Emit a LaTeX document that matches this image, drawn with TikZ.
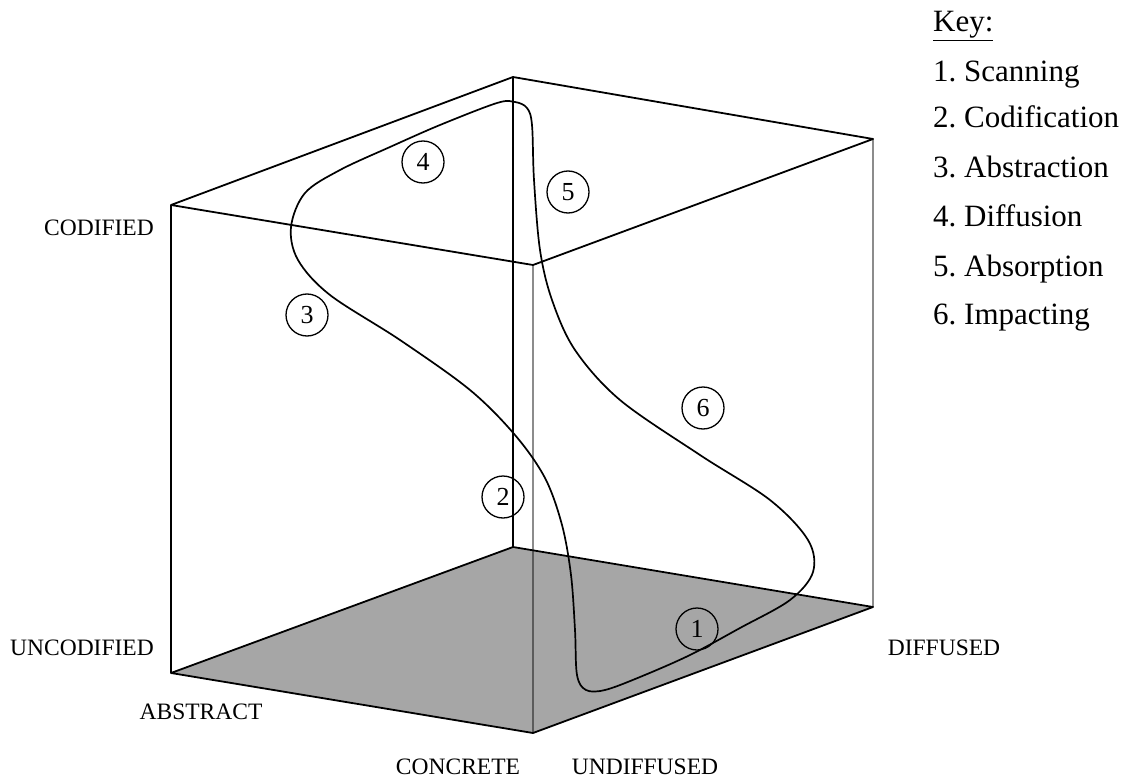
\documentclass[tikz,border=0pt]{standalone}
\usepackage{fontspec}
\setmainfont{Liberation Serif}
\usepackage{tikz}
\usetikzlibrary{positioning, calc}
\definecolor{floorgrey}{HTML}{A6A6A6}

\tikzset{
  cubeedge/.style={line width=1.8pt, line join=round},
  faintedge/.style={line width=2.6pt, draw=black, draw opacity=0.45},
  stage/.style={draw, circle, line width=1.3pt, minimum size=42pt, inner sep=0pt, font=\fontsize{26}{30}\selectfont},
  axislabel/.style={font=\fontsize{23.5}{28}\selectfont, inner sep=0pt},
  keyitem/.style={font=\fontsize{31}{36}\selectfont\frenchspacing, anchor=base west, inner sep=0pt}
}

\begin{document}
\begin{tikzpicture}[x=1pt, y=-1pt]
  \useasboundingbox (0,0) rectangle (1132,778);

  % corners of the cube
  \coordinate (tl) at (171,205);
  \coordinate (tb) at (513,77);
  \coordinate (tr) at (873,139);
  \coordinate (tf) at (533,265);
  \coordinate (bl) at (171,673);
  \coordinate (bb) at (513,547);
  \coordinate (br) at (873,607);
  \coordinate (bf) at (533,733);

  % floor
  \fill[floorgrey] (bl) -- (bb) -- (br) -- (bf) -- cycle;
  \draw[faintedge] (tf) -- (bf);
  \draw[faintedge] (tr) -- (br);
  \draw[cubeedge] (bl) -- (bb) -- (br) -- (bf) -- cycle;
  \draw[cubeedge] (tl) -- (tb) -- (tr) -- (tf) -- cycle;
  \draw[cubeedge] (tl) -- (bl);
  \draw[cubeedge] (tb) -- (bb);

  % the social learning cycle
  \draw[line width=1.7pt] plot[smooth cycle, tension=0.55] coordinates {
    (440,125) (497,103) (515,102) (527,108) (532,125) (534,180) (540,250)
    (552,300) (575,350) (620,400) (700,455) (770,500) (808,540) (813,572)
    (790,600) (740,628) (690,655) (640,677) (605,690) (586,690) (577,675)
    (575,630) (571,575) (562,525) (545,478) (515,435) (470,390) (400,340)
    (330,295) (298,260) (291,227) (305,193) (340,170) (390,147)};

  \node[stage] (s1) at (697,629) {1};
  \node[stage] (s2) at (503,497) {2};
  \node[stage] (s3) at (307,315) {3};
  \node[stage] (s4) at (423,162) {4};
  \node[stage] (s5) at (568,192) {5};
  \node[stage] (s6) at (703,408) {6};

  % axis labels
  \node[axislabel] (codified) at (99,228) {CODIFIED};
  \node[axislabel] (uncodified) at (82,648) {UNCODIFIED};
  \node[axislabel] (abstract) at (201,712) {ABSTRACT};
  \node[axislabel] (concrete) at (458,767) {CONCRETE};
  \node[axislabel] (undiffused) at (645,767) {UNDIFFUSED};
  \node[axislabel] (diffused) at (944,648) {DIFFUSED};

  % key
  \node[keyitem] (key) at (933,32) {\underline{Key:}};
  \foreach \i/\txt/\y in {1/Scanning/82, 2/Codification/128, 3/Abstraction/178,
                          4/Diffusion/226, 5/Absorption/276, 6/Impacting/324}
    \node[keyitem] (key\i) at (933,\y) {\i. \txt};
\end{tikzpicture}
\end{document}
